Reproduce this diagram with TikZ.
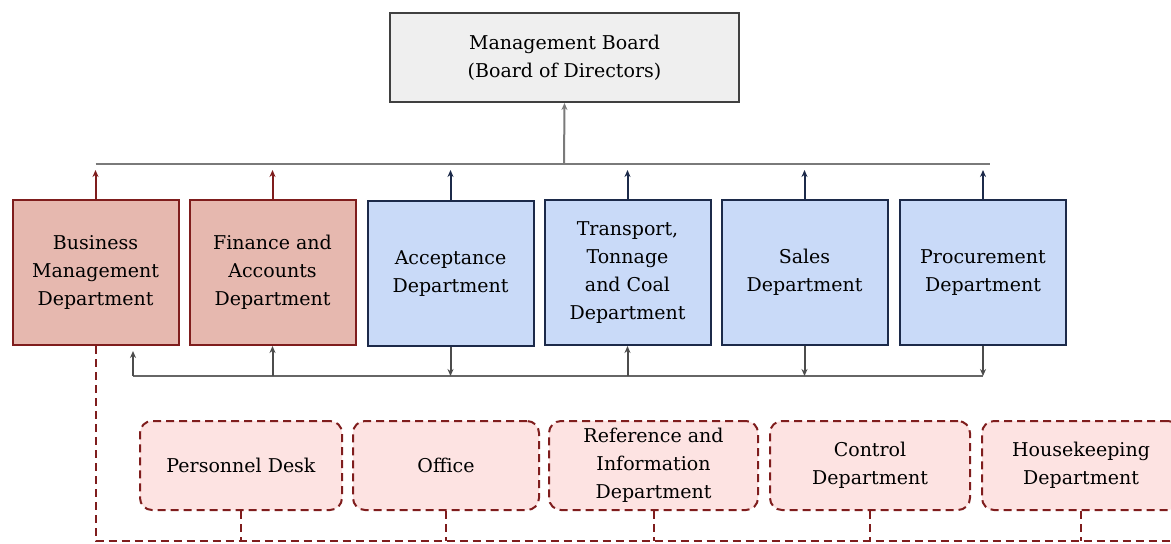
\documentclass[tikz,border=0pt]{standalone}
\usepackage{fontspec}
\setmainfont{DejaVu Serif}
\usetikzlibrary{arrows.meta}

\definecolor{boardfill}{HTML}{EFEFEF}
\definecolor{redfill}{HTML}{E6B8AF}
\definecolor{bluefill}{HTML}{C9DAF8}
\definecolor{pinkfill}{HTML}{FDE3E2}
\definecolor{darkred}{HTML}{7F1D1D}
\definecolor{navy}{HTML}{1C2A4A}
\definecolor{linegray}{HTML}{7A7A7A}

\tikzset{
  dept/.style={draw, line width=1pt, minimum width=83pt, minimum height=72.5pt, align=center, inner sep=2pt},
  reddept/.style={dept, draw=darkred, fill=redfill},
  bluedept/.style={dept, draw=navy, fill=bluefill},
  unit/.style={draw=darkred, fill=pinkfill, dash pattern=on 4pt off 2.5pt, line width=1pt,
    rounded corners=6pt, minimum height=44.5pt, align=center},
  tip/.style={-{Stealth[length=3.5pt,width=3pt]}},
  dashlink/.style={draw=darkred, dash pattern=on 4pt off 2.5pt, line width=1pt},
}

\begin{document}
\begin{tikzpicture}[x=0.5pt, y=-0.5pt, font=\fontsize{9.5}{14}\selectfont]
    \useasboundingbox (0,0) rectangle (1171,543);
    % board
    \node[draw=black!75, fill=boardfill, line width=1pt, minimum width=174.5pt, minimum height=44.5pt, align=center]
        (board) at (564.5,57.5) {Management Board\\(Board of Directors)};
    % departments
    \node[reddept] (bmd) at (95.5,272.5) {Business\\Management\\Department};
    \node[reddept] (fad) at (272.5,272.5) {Finance and\\Accounts\\Department};
    \node[bluedept] (acc) at (450.5,273.5) {Acceptance\\Department};
    \node[bluedept] (tra) at (627.5,272.5) {Transport,\\Tonnage\\and Coal\\Department};
    \node[bluedept] (sal) at (804.5,272.5) {Sales\\Department};
    \node[bluedept] (pro) at (983,272.5) {Procurement\\Department};
    % units under business management
    \node[unit, minimum width=101pt] (pd) at (241,465.5) {Personnel Desk};
    \node[unit, minimum width=93pt] (off) at (446,465.5) {Office};
    \node[unit, minimum width=104.5pt] (ref) at (653.5,465.5) {Reference and\\Information\\Department};
    \node[unit, minimum width=100pt] (con) at (870,465.5) {Control\\Department};
    \node[unit, minimum width=99pt] (hk) at (1081,465.5) {Housekeeping\\Department};
    % upper bus
    \coordinate (top) at (564,164);
    \draw[linegray, line width=1pt] (bmd.north |- top) -- ([xshift=3.5pt]pro.north |- top);
    \draw[linegray, line width=1pt, tip] (top) -- (board.south);
    \foreach \d in {bmd, fad}
        \draw[darkred, line width=1pt, tip, shorten >=3pt] (\d.north) -- (\d.north |- top);
    \foreach \d in {acc, tra, sal, pro}
        \draw[navy, line width=1pt, tip, shorten >=3pt] (\d.north) -- (\d.north |- top);
    % lower bus
    \coordinate (busL) at (133,376);
    \draw[black!60, line width=1.2pt] (busL) -- (pro.south |- busL);
    \draw[black!70, line width=1pt, tip, shorten >=2.5pt] (busL) -- (busL |- bmd.south);
    \foreach \d in {fad, tra}
        \draw[black!70, line width=1pt, tip] (\d.south |- busL) -- (\d.south);
    \foreach \d in {acc, sal, pro}
        \draw[black!70, line width=1pt, tip] (\d.south) -- (\d.south |- busL);
    % dashed links
    \coordinate (base) at (1171,541);
    \draw[dashlink] (bmd.south) |- (base);
    \foreach \u in {pd, off, ref, con, hk}
        \draw[dashlink] (\u.south) -- (\u.south |- base);
\end{tikzpicture}
\end{document}
